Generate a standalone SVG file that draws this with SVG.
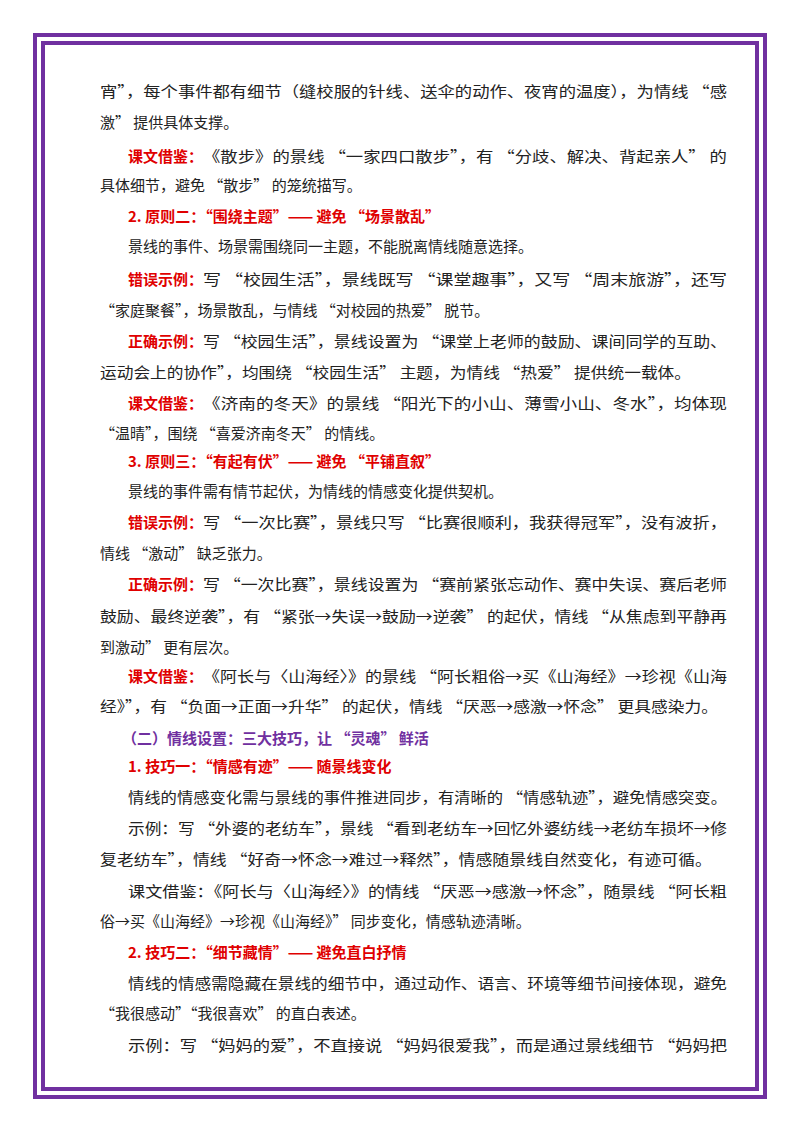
<svg xmlns="http://www.w3.org/2000/svg" width="800" height="1132" viewBox="0 0 800 1132">
<style>
text{font-family:"Noto Sans CJK SC","Liberation Sans",sans-serif;font-size:15px;fill:#222}
.r{fill:#e00000;font-weight:bold}
.p{fill:#7030a0;font-weight:bold}
</style>
<rect width="800" height="1132" fill="#fff"/>
<rect x="35" y="35" width="730" height="1062" fill="none" stroke="#7030a0" stroke-width="4"/>
<rect x="43" y="43" width="714" height="1046" fill="none" stroke="#7030a0" stroke-width="4"/>
<g id="body">
<text x="100" y="97" textLength="627" lengthAdjust="spacingAndGlyphs">宵”，每个事件都有细节（缝校服的针线、送伞的动作、夜宵的温度），为情线 “感</text>
<text x="100" y="128">激” 提供具体支撑。</text>
<text x="128" y="162" class="r">课文借鉴：</text>
<text x="203" y="162" textLength="524" lengthAdjust="spacingAndGlyphs">《散步》的景线 “一家四口散步”，有 “分歧、解决、背起亲人” 的</text>
<text x="100" y="191">具体细节，避免 “散步” 的笼统描写。</text>
<text x="128" y="222" class="r">2. 原则二：“围绕主题”—— 避免 “场景散乱”</text>
<text x="128" y="252">景线的事件、场景需围绕同一主题，不能脱离情线随意选择。</text>
<text x="128" y="285" class="r">错误示例：</text>
<text x="203" y="285" textLength="524" lengthAdjust="spacingAndGlyphs">写 “校园生活”，景线既写 “课堂趣事”，又写 “周末旅游”，还写</text>
<text x="100" y="316">“家庭聚餐”，场景散乱，与情线 “对校园的热爱” 脱节。</text>
<text x="128" y="347" class="r">正确示例：</text>
<text x="203" y="347" textLength="524" lengthAdjust="spacingAndGlyphs">写 “校园生活”，景线设置为 “课堂上老师的鼓励、课间同学的互助、</text>
<text x="100" y="378" textLength="591" lengthAdjust="spacingAndGlyphs">运动会上的协作”，均围绕 “校园生活” 主题，为情线 “热爱” 提供统一载体。</text>
<text x="128" y="409" class="r">课文借鉴：</text>
<text x="203" y="409" textLength="524" lengthAdjust="spacingAndGlyphs">《济南的冬天》的景线 “阳光下的小山、薄雪小山、冬水”，均体现</text>
<text x="100" y="439">“温晴”，围绕 “喜爱济南冬天” 的情线。</text>
<text x="128" y="467" class="r">3. 原则三：“有起有伏”—— 避免 “平铺直叙”</text>
<text x="128" y="497">景线的事件需有情节起伏，为情线的情感变化提供契机。</text>
<text x="128" y="528" class="r">错误示例：</text>
<text x="203" y="528" textLength="524" lengthAdjust="spacingAndGlyphs">写 “一次比赛”，景线只写 “比赛很顺利，我获得冠军”，没有波折，</text>
<text x="100" y="559">情线 “激动” 缺乏张力。</text>
<text x="128" y="590" class="r">正确示例：</text>
<text x="203" y="590" textLength="524" lengthAdjust="spacingAndGlyphs">写 “一次比赛”，景线设置为 “赛前紧张忘动作、赛中失误、赛后老师</text>
<text x="100" y="622" textLength="627" lengthAdjust="spacingAndGlyphs">鼓励、最终逆袭”，有 “紧张→失误→鼓励→逆袭” 的起伏，情线 “从焦虑到平静再</text>
<text x="100" y="653">到激动” 更有层次。</text>
<text x="128" y="682" class="r">课文借鉴：</text>
<text x="203" y="682" textLength="524" lengthAdjust="spacingAndGlyphs">《阿长与〈山海经〉》的景线 “阿长粗俗→买《山海经》→珍视《山海</text>
<text x="100" y="712" textLength="618" lengthAdjust="spacingAndGlyphs">经》”，有 “负面→正面→升华” 的起伏，情线 “厌恶→感激→怀念” 更具感染力。</text>
<text x="122" y="744" class="p">（二）情线设置：三大技巧，让 “灵魂” 鲜活</text>
<text x="128" y="772" class="r">1. 技巧一：“情感有迹”—— 随景线变化</text>
<text x="128" y="803" textLength="599" lengthAdjust="spacingAndGlyphs">情线的情感变化需与景线的事件推进同步，有清晰的 “情感轨迹”，避免情感突变。</text>
<text x="128" y="834" textLength="599" lengthAdjust="spacingAndGlyphs">示例：写 “外婆的老纺车”，景线 “看到老纺车→回忆外婆纺线→老纺车损坏→修</text>
<text x="100" y="865" textLength="612" lengthAdjust="spacingAndGlyphs">复老纺车”，情线 “好奇→怀念→难过→释然”，情感随景线自然变化，有迹可循。</text>
<text x="128" y="897" textLength="599" lengthAdjust="spacingAndGlyphs">课文借鉴：《阿长与〈山海经〉》的情线 “厌恶→感激→怀念”，随景线 “阿长粗</text>
<text x="100" y="927">俗→买《山海经》→珍视《山海经》” 同步变化，情感轨迹清晰。</text>
<text x="128" y="958" class="r">2. 技巧二：“细节藏情”—— 避免直白抒情</text>
<text x="128" y="989" textLength="599" lengthAdjust="spacingAndGlyphs">情线的情感需隐藏在景线的细节中，通过动作、语言、环境等细节间接体现，避免</text>
<text x="100" y="1019">“我很感动”“我很喜欢” 的直白表述。</text>
<text x="128" y="1051" textLength="599" lengthAdjust="spacingAndGlyphs">示例：写 “妈妈的爱”，不直接说 “妈妈很爱我”，而是通过景线细节 “妈妈把</text>
</g>
</svg>
